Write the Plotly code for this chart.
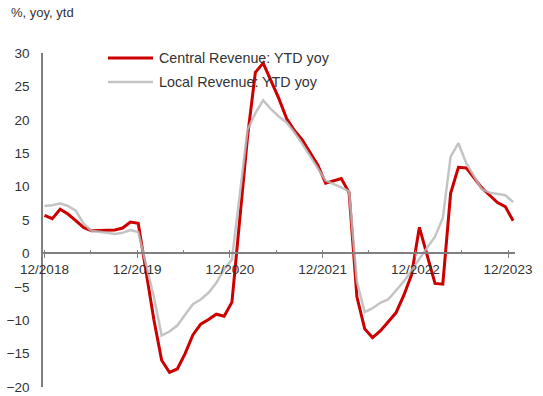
import plotly.graph_objects as go

# Monthly YTD yoy growth (%), Dec 2018 .. Dec 2023; None = no January release
central = [
    5.7, 5.2, 6.6, 5.9, 4.9, 3.9, 3.4, 3.4, 3.5, 3.5, 3.8, 4.7, 4.5,
    None, -9.9, -16.0, -17.8, -17.3, -15.0, -12.2, -10.6, -9.9, -9.1, -9.4, -7.3,
    None, 17.5, 27.1, 28.5, 25.9, 23.2, 20.2, 18.4, 17.0, 15.0, 13.2, 10.5,
    None, 11.2, 9.1, -6.5, -11.3, -12.6, -11.6, -10.3, -8.9, -6.3, -3.2, 3.9,
    None, -4.5, -4.6, 9.0, 12.9, 12.8, 11.3, 9.8, 8.7, 7.6, 7.0, 4.9,
]
local = [
    7.1, 7.2, 7.5, 7.1, 6.4, 4.5, 3.4, 3.3, 3.1, 2.9, 3.1, 3.5, 3.2,
    None, -6.5, -12.3, -11.7, -10.8, -9.2, -7.6, -6.9, -5.9, -4.4, -2.4, -0.9,
    None, 18.5, 21.0, 22.9, 21.6, 20.5, 19.6, 18.1, 16.4, 14.6, 12.6, 10.9,
    None, 9.9, 9.3, -4.2, -8.8, -8.2, -7.4, -6.9, -5.5, -4.2, -2.6, -0.8,
    None, 2.5, 5.3, 14.5, 16.5, 13.5, 11.5, 9.6, 9.1, 8.9, 8.7, 7.7,
]
month_index = list(range(len(central)))

tick_pos = [0, 12, 24, 36, 48, 60]
tick_labels = ["12/2018", "12/2019", "12/2020", "12/2021", "12/2022", "12/2023"]
half_year_pos = list(range(0, 61, 6))
y_ticks = [-20, -15, -10, -5, 0, 5, 10, 15, 20, 25, 30]

series_names = ["Central Revenue: YTD yoy", "Local Revenue: YTD yoy"]
RED = "#CC0000"
GREY = "rgba(186,186,186,0.85)"
AXIS = "#7F7F7F"
TEXT = "#333333"
FONT = "Liberation Sans, Arial, sans-serif"

fig = go.Figure()
fig.add_trace(go.Scatter(x=month_index, y=central, mode="lines", connectgaps=True,
                         line=dict(color=RED, width=3), name=series_names[0],
                         xaxis="x", yaxis="y", showlegend=False))
fig.add_trace(go.Scatter(x=month_index, y=local, mode="lines", connectgaps=True,
                         line=dict(color=GREY, width=2.5), name=series_names[1],
                         xaxis="x", yaxis="y", showlegend=False))
# empty traces so the calendar axes (labels / half-year ticks) get drawn
for ax in ("x2", "x3"):
    fig.add_trace(go.Scatter(x=[None], y=[None], mode="lines", xaxis=ax, yaxis="y",
                             showlegend=False, hoverinfo="skip"))

# hand-drawn legend (long line samples)
W, H, L, T, B, R = 543, 396, 43, 53, 9, 28
pw, ph = W - L - R, H - T - B


def px_x(p):
    return (p - L) / pw


def px_y(p):
    return (H - B - p) / ph


for name, color, width, py in [(series_names[0], RED, 3, 58), (series_names[1], GREY, 2.5, 82)]:
    fig.add_shape(type="line", xref="paper", yref="paper",
                  x0=px_x(108), x1=px_x(153), y0=px_y(py), y1=px_y(py),
                  line=dict(color=color, width=width))
    fig.add_annotation(text=name, xref="paper", yref="paper", x=px_x(157), y=px_y(py),
                       xanchor="left", yanchor="middle", showarrow=False,
                       font=dict(family=FONT, size=14.3, color=TEXT))

fig.add_annotation(text="%, yoy, ytd", xref="paper", yref="paper", x=px_x(9), y=px_y(13),
                   xanchor="left", yanchor="middle", showarrow=False,
                   font=dict(family=FONT, size=13, color=TEXT))

zero_pos = 20 / 50  # y = 0 inside the [-20, 30] range
tick_range = [-1.5 / 7.725, (515 - 44.5) / 7.725]

fig.update_layout(
    width=W, height=H,
    margin=dict(l=L, r=R, t=T, b=B, autoexpand=False),
    paper_bgcolor="white", plot_bgcolor="white",
    font=dict(family=FONT, color=TEXT),
    xaxis=dict(range=[-1.5 / 7.81, 60 + 1.9 / 7.81], visible=False,
               showgrid=False, zeroline=False, automargin=False),
    xaxis2=dict(range=tick_range, overlaying="x", anchor="free", position=zero_pos,
                tickmode="array", tickvals=tick_pos, ticktext=tick_labels,
                ticks="outside", ticklen=4, tickwidth=1.3, tickcolor=AXIS,
                showline=True, linecolor=AXIS, linewidth=1.5,
                showgrid=False, zeroline=False, automargin=False,
                tickfont=dict(family=FONT, size=13.5, color=TEXT)),
    xaxis3=dict(range=tick_range, overlaying="x", anchor="free", position=zero_pos,
                tickmode="array", tickvals=half_year_pos,
                ticks="inside", ticklen=3, tickwidth=1.3, tickcolor=AXIS,
                showticklabels=False, showline=False, showgrid=False, zeroline=False,
                automargin=False),
    yaxis=dict(range=[-20, 30], tickmode="array", tickvals=y_ticks,
               ticks="outside", ticklen=9, tickcolor="rgba(0,0,0,0)",
               showline=True, linecolor=AXIS, linewidth=1.5,
               showgrid=False, zeroline=False, automargin=False,
               tickfont=dict(family=FONT, size=13.5, color=TEXT)),
)

fig.write_html("out.html")
